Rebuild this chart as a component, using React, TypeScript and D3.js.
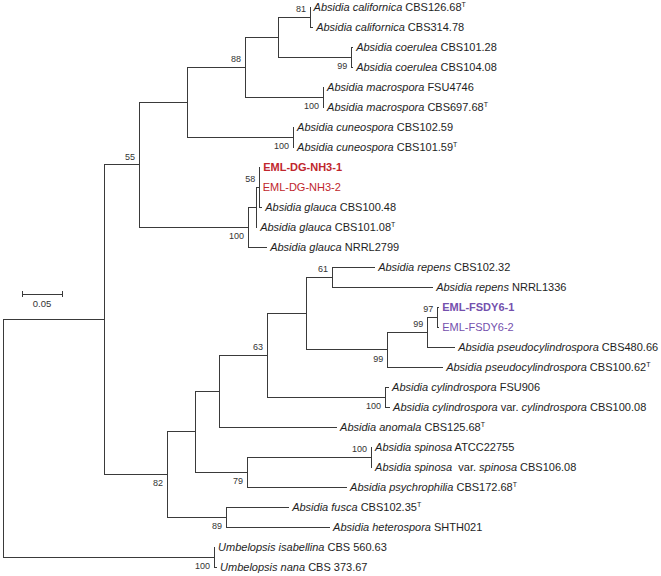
import React from "react";
import * as d3 from "d3";

const W = 661;
const H = 576;

// Tip labels in display order (markup: *italic*, ^T = superscript type strain)
const tipLabels: string[] = [
  "*Absidia californica* CBS126.68^T",
  "*Absidia californica* CBS314.78",
  "*Absidia coerulea* CBS101.28",
  "*Absidia coerulea* CBS104.08",
  "*Absidia macrospora* FSU4746",
  "*Absidia macrospora* CBS697.68^T",
  "*Absidia cuneospora* CBS102.59",
  "*Absidia cuneospora* CBS101.59^T",
  "EML-DG-NH3-1",
  "EML-DG-NH3-2",
  "*Absidia glauca* CBS100.48",
  "*Absidia glauca* CBS101.08^T",
  "*Absidia glauca* NRRL2799",
  "*Absidia repens* CBS102.32",
  "*Absidia repens* NRRL1336",
  "EML-FSDY6-1",
  "EML-FSDY6-2",
  "*Absidia pseudocylindrospora* CBS480.66",
  "*Absidia pseudocylindrospora* CBS100.62^T",
  "*Absidia cylindrospora* FSU906",
  "*Absidia cylindrospora* var. *cylindrospora* CBS100.08",
  "*Absidia anomala* CBS125.68^T",
  "*Absidia spinosa* ATCC22755",
  "*Absidia spinosa*  var. *spinosa* CBS106.08",
  "*Absidia psychrophilia* CBS172.68^T",
  "*Absidia fusca* CBS102.35^T",
  "*Absidia heterospora* SHTH021",
  "*Umbelopsis isabellina* CBS 560.63",
  "*Umbelopsis nana* CBS 373.67",
];

// Edges: [parent, child, branch length (substitutions/site)]; tips are "t<index>"
const edges: [string, string, number][] = [
  ["root", "I", 0.1263],
  ["I", "N55", 0.0438],
  ["N55", "N187", 0.06],
  ["N187", "N88", 0.0725],
  ["N88", "N278", 0.0413],
  ["N278", "Cal", 0.04],
  ["Cal", "t0", 0.0006],
  ["Cal", "t1", 0.0038],
  ["N278", "Coe", 0.0913],
  ["Coe", "t2", 0.0025],
  ["Coe", "t3", 0.0025],
  ["N88", "Mac", 0.0975],
  ["Mac", "t4", 0.0013],
  ["Mac", "t5", 0.0013],
  ["N187", "Cun", 0.1325],
  ["Cun", "t6", 0.0013],
  ["Cun", "t7", 0.0013],
  ["N55", "G100", 0.1363],
  ["G100", "N256", 0.01],
  ["N256", "DG", 0.0038],
  ["DG", "t8", 0.0013],
  ["DG", "t9", 0.0006],
  ["DG", "t10", 0.0038],
  ["N256", "t11", 0.0013],
  ["G100", "t12", 0.0238],
  ["I", "N82", 0.0788],
  ["N82", "N195", 0.035],
  ["N195", "N219", 0.03],
  ["N219", "N63", 0.06],
  ["N63", "N305", 0.0488],
  ["N305", "N61", 0.0325],
  ["N61", "t13", 0.0538],
  ["N61", "t14", 0.1263],
  ["N305", "N387", 0.1013],
  ["N387", "N427", 0.05],
  ["N427", "FS", 0.0125],
  ["FS", "t15", 0.0025],
  ["FS", "t16", 0.0025],
  ["N427", "t17", 0.035],
  ["N387", "t18", 0.07],
  ["N63", "Cyl", 0.1475],
  ["Cyl", "t19", 0.005],
  ["Cyl", "t20", 0.0063],
  ["N219", "t21", 0.1475],
  ["N195", "N79", 0.065],
  ["N79", "Spi", 0.155],
  ["Spi", "t22", 0.0013],
  ["Spi", "t23", 0.0013],
  ["N79", "t24", 0.125],
  ["N82", "N89", 0.0738],
  ["N89", "t25", 0.0788],
  ["N89", "t26", 0.13],
  ["root", "U", 0.2638],
  ["U", "t27", 0.0013],
  ["U", "t28", 0.0038],
];

// Bootstrap support values: [node, value]
const supportValues: [string, number][] = [
  ["Cal", 81],
  ["N88", 88],
  ["Coe", 99],
  ["Mac", 100],
  ["Cun", 100],
  ["N55", 55],
  ["DG", 58],
  ["G100", 100],
  ["N61", 61],
  ["FS", 97],
  ["N427", 99],
  ["N387", 99],
  ["N63", 63],
  ["Cyl", 100],
  ["Spi", 100],
  ["N79", 79],
  ["N82", 82],
  ["N89", 89],
  ["U", 100],
];
// nodes whose support value sits below the branch
const supportBelow = ["Coe", "Mac", "Cun", "G100", "N387", "Cyl", "N79", "N82", "N89", "U"];

const scaleBarValue = 0.05;
const scaleBarLabel = "0.05";

// highlighted strains
const redTips = ["t8", "t9"];
const purpleTips = ["t15", "t16"];
const boldTips = ["t8", "t15"];

const RED = "#c0262c";
const PURPLE = "#7450ad";
const LINE = "#3a3a3a";
const TEXT = "#1e1e1e";
const FONT = "'Liberation Sans', Arial, Helvetica, sans-serif";

function parseLabel(s: string) {
  const parts = s.split(/(\*[^*]+\*|\^T)/).filter((p) => p.length > 0);
  return parts.map((p) => {
    if (p === "^T") return { text: "T", italic: false, sup: true };
    if (p.startsWith("*")) return { text: p.slice(1, -1), italic: true, sup: false };
    return { text: p, italic: false, sup: false };
  });
}

export default function App() {
  type Row = { id: string; parent: string | null; len: number };
  const rows: Row[] = [{ id: "root", parent: null, len: 0 }].concat(
    edges.map(([p, c, l]) => ({ id: c, parent: p, len: l }))
  );
  const root = d3
    .stratify<Row>()
    .id((d) => d.id)
    .parentId((d) => d.parent)(rows);

  // cumulative depth
  const depth = new Map<string, number>();
  root.eachBefore((n: any) => {
    const d = n.parent ? depth.get(n.parent.id)! + n.data.len : 0;
    depth.set(n.id, d);
  });
  const leaves = root.leaves();
  const tipIndex = new Map<string, number>();
  leaves.forEach((l: any) => tipIndex.set(l.id, +l.id.slice(1)));

  const x = d3.scaleLinear().domain([0, 0.1]).range([3, 83]);
  const y = d3.scaleLinear().domain([0, tipLabels.length - 1]).range([7, 567]);

  const pos = new Map<string, { x: number; y: number }>();
  root.eachAfter((n: any) => {
    let yy: number;
    if (!n.children) yy = y(tipIndex.get(n.id)!);
    else {
      const ys = n.children.map((c: any) => pos.get(c.id)!.y);
      yy = (ys[0] + ys[ys.length - 1]) / 2;
    }
    pos.set(n.id, { x: x(depth.get(n.id)!), y: yy });
  });

  const links = root.links().map((l: any) => {
    const s = pos.get(l.source.id)!;
    const t = pos.get(l.target.id)!;
    const p = d3.path();
    p.moveTo(s.x, s.y);
    p.lineTo(s.x, t.y);
    p.lineTo(t.x, t.y);
    return { key: l.target.id, d: p.toString() };
  });

  const barX0 = 22;
  const barX1 = barX0 + (x(scaleBarValue) - x(0));
  const barY = 294;

  return (
    <svg
      width={W}
      height={H}
      style={{ position: "absolute", left: 0, top: 0, background: "#fff" }}
      fontFamily={FONT}
    >
      <rect x={0} y={0} width={W} height={H} fill="#fff" />
      <g fill="none" stroke={LINE} strokeWidth={1} shapeRendering="crispEdges">
        {links.map((l) => (
          <path key={l.key} d={l.d} />
        ))}
      </g>
      {leaves.map((l: any) => {
        const p = pos.get(l.id)!;
        const idx = tipIndex.get(l.id)!;
        const color = redTips.includes(l.id) ? RED : purpleTips.includes(l.id) ? PURPLE : TEXT;
        const bold = boldTips.includes(l.id);
        const segs = parseLabel(tipLabels[idx]);
        return (
          <text
            key={l.id}
            x={p.x + 3}
            y={p.y}
            dy="0.35em"
            fontSize={11}
            fill={color}
            fontWeight={bold ? "bold" : "normal"}
            style={{ whiteSpace: "pre" }}
          >
            {segs.map((s, i) =>
              s.sup ? (
                <tspan key={i} fontSize={7} dy={-4}>
                  {s.text}
                </tspan>
              ) : (
                <tspan key={i} fontStyle={s.italic ? "italic" : "normal"}>
                  {s.text}
                </tspan>
              )
            )}
          </text>
        );
      })}
      {supportValues.map(([id, v]) => {
        const p = pos.get(id)!;
        const below = supportBelow.includes(id);
        return (
          <text
            key={id}
            x={p.x - 4}
            y={p.y + (below ? 9 : -8)}
            dy="0.35em"
            textAnchor="end"
            fontSize={9}
            fill="#333"
          >
            {v}
          </text>
        );
      })}
      <g stroke={LINE} strokeWidth={1} shapeRendering="crispEdges">
        <line x1={barX0} x2={barX1} y1={barY} y2={barY} />
        <line x1={barX0} x2={barX0} y1={barY - 3} y2={barY + 3} />
        <line x1={barX1} x2={barX1} y1={barY - 3} y2={barY + 3} />
      </g>
      <text
        x={(barX0 + barX1) / 2}
        y={barY + 10}
        dy="0.35em"
        textAnchor="middle"
        fontSize={9.5}
        fill="#333"
      >
        {scaleBarLabel}
      </text>
    </svg>
  );
}
